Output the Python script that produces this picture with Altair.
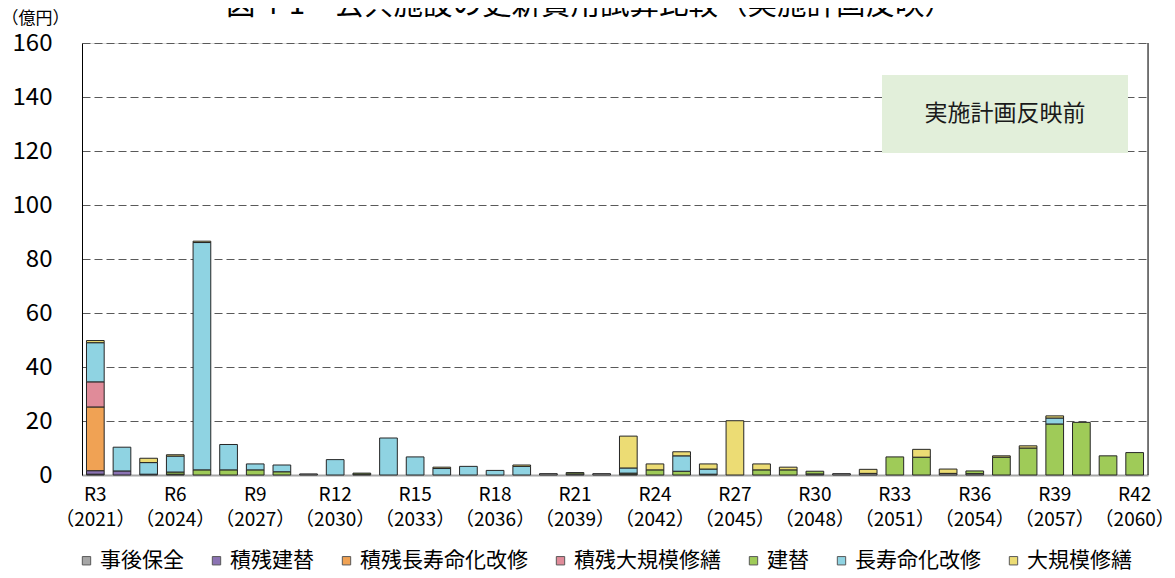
import altair as alt
import pandas as pd

# ---- data -------------------------------------------------------------
years = list(range(2021, 2061))   # R3 (2021) ... R42 (2060)
categories = ["事後保全", "積残建替", "積残長寿命化改修", "積残大規模修繕",
              "建替", "長寿命化改修", "大規模修繕"]
colors = ["#a6a6a6", "#8b73b3", "#f0a254", "#e08b99",
          "#9fcb58", "#8fd3e2", "#ecdc74"]

jigo_hozen = [0.3, 0, 0.3, 0.3, 0, 0, 0, 0, 0.4, 0,
              0.3, 0, 0, 0, 0, 0, 0, 0.5, 0.4, 0.5,
              0.3, 0, 0, 0, 0, 0, 0, 0.4, 0.5, 0.6,
              0, 0, 0.6, 0.5, 0, 0, 0, 0, 0, 0]
zan_tatekae = [1.3, 1.5, 0, 0, 0, 0, 0, 0, 0, 0,
               0, 0, 0, 0, 0, 0, 0, 0, 0, 0,
               0, 0, 0, 0, 0, 0, 0, 0, 0, 0,
               0, 0, 0, 0, 0, 0, 0, 0, 0, 0]
zan_choju = [23.6, 0, 0, 0, 0, 0, 0, 0, 0, 0,
             0, 0, 0, 0, 0, 0, 0, 0, 0, 0,
             0, 0, 0, 0, 0, 0, 0, 0, 0, 0,
             0, 0, 0, 0, 0, 0, 0, 0, 0, 0]
zan_daikibo = [9.3, 0, 0, 0, 0, 0, 0, 0, 0, 0,
               0, 0, 0, 0, 0, 0, 0, 0, 0, 0,
               0, 0, 0, 0, 0, 0, 0, 0, 0, 0,
               0, 0, 0, 0, 0, 0, 0, 0, 0, 0]
tatekae = [0, 0, 0, 0.8, 1.9, 1.9, 1.9, 1.2, 0, 0,
           0.4, 0, 0, 0, 0, 0, 0, 0, 0.5, 0,
           0.4, 1.9, 1.4, 0.3, 0, 1.9, 1.9, 1.0, 0, 0,
           6.7, 6.6, 0, 1.0, 6.6, 10.0, 18.9, 19.5, 7.1, 8.3]
choju = [14.5, 8.8, 4.3, 5.9, 84.2, 9.4, 2.2, 2.5, 0, 5.7,
         0, 13.7, 6.7, 2.4, 3.2, 1.7, 3.2, 0, 0, 0,
         1.9, 0, 5.7, 1.9, 0, 0, 0, 0, 0, 0,
         0, 0, 0, 0, 0, 0, 2.2, 0, 0, 0]
daikibo = [0.8, 0, 1.6, 0.5, 0.5, 0, 0, 0, 0, 0,
           0, 0, 0, 0.5, 0, 0, 0.5, 0, 0, 0,
           11.8, 2.2, 1.5, 1.9, 20.1, 2.2, 1.0, 0, 0, 1.5,
           0, 2.9, 1.6, 0, 0.5, 0.8, 0.8, 0, 0, 0]

series = [jigo_hozen, zan_tatekae, zan_choju, zan_daikibo, tatekae, choju, daikibo]

title_text = "図 4-1　公共施設の更新費用試算比較（実施計画反映）"
box_text = "実施計画反映前"
y_unit = "（億円）"

rows = []
for ci, (cat, vals) in enumerate(zip(categories, series)):
    for y, v in zip(years, vals):
        if v > 0:
            rows.append({"year": y, "category": cat, "value": v, "order": ci})
df = pd.DataFrame(rows)

W, H = 1066, 432
num_font = "Liberation Sans Narrow, Noto Sans CJK JP"
jp_font = "Noto Sans CJK JP"

bars = alt.Chart(df).mark_bar(stroke="#262626", strokeWidth=1).encode(
    x=alt.X("year:O",
            scale=alt.Scale(domain=years, paddingInner=0.336, paddingOuter=0.168),
            axis=alt.Axis(
                title=None, ticks=False, domainColor="#a6a6a6", domainWidth=2,
                labelAngle=0, labelFont=num_font, labelFontSize=19,
                labelColor="#000000", labelPadding=10, labelLineHeight=25,
                labelBaseline="top", labelOverlap=False,
                labelExpr="(datum.value - 2021) % 3 == 0 ? ['R' + (datum.value - 2018), '（' + datum.value + '）'] : ''",
            )),
    y=alt.Y("value:Q",
            stack="zero",
            scale=alt.Scale(domain=[0, 160], nice=False),
            axis=alt.Axis(
                values=[0, 20, 40, 60, 80, 100, 120, 140, 160],
                title=y_unit, titleAngle=0, titleX=-47, titleY=-25,
                titleAlign="center", titleBaseline="middle",
                titleFont=jp_font, titleFontSize=17, titleFontWeight="normal",
                titleColor="#000000",
                ticks=False, domainColor="#000000", domainWidth=1,
                labelFont=num_font, labelFontSize=24, labelColor="#000000",
                labelPadding=30,
                grid=True, gridColor="#595959", gridDash=[8, 4], gridWidth=1.2,
            )),
    color=alt.Color("category:N",
                    scale=alt.Scale(domain=categories, range=colors),
                    sort=categories,
                    legend=alt.Legend(
                        title=None, orient="none", direction="horizontal",
                        legendX=-6, legendY=507, columns=7,
                        symbolType="square", symbolSize=70,
                        symbolStrokeColor="#595959", symbolStrokeWidth=1,
                        labelFont=jp_font, labelFontSize=21, labelColor="#000000",
                        labelOffset=3, columnPadding=22, labelLimit=400,
                        padding=0,
                    )),
    order=alt.Order("order:Q", sort="ascending"),
)

one = pd.DataFrame({"k": [0]})

box = alt.Chart(one).mark_rect(color="#e2efda").encode(
    x=alt.value(800), x2=alt.value(1046), y=alt.value(32), y2=alt.value(110)
)
box_label = alt.Chart(one).mark_text(
    text=box_text, font=jp_font, fontSize=23, color="#1a1a1a",
    align="center", baseline="middle"
).encode(x=alt.value(923), y=alt.value(71))

right_border = alt.Chart(one).mark_rule(color="#000000", strokeWidth=1).encode(
    x=alt.value(W), y=alt.value(0), y2=alt.value(H)
)

title = alt.Chart(one).mark_text(
    text=title_text, font=jp_font, fontSize=29.5, color="#000000",
    align="center", baseline="alphabetic"
).encode(x=alt.value(508), y=alt.value(-29))

chart = alt.layer(bars, box, box_label, right_border, title).properties(
    width=W, height=H,
    autosize=alt.AutoSizeParams(type="none"),
    padding={"left": 74, "top": 35, "right": 19, "bottom": 95},
).configure_view(stroke=None).configure(font=jp_font, background="#ffffff")

chart.save("out.html", embed_options={"renderer": "svg", "actions": False})
